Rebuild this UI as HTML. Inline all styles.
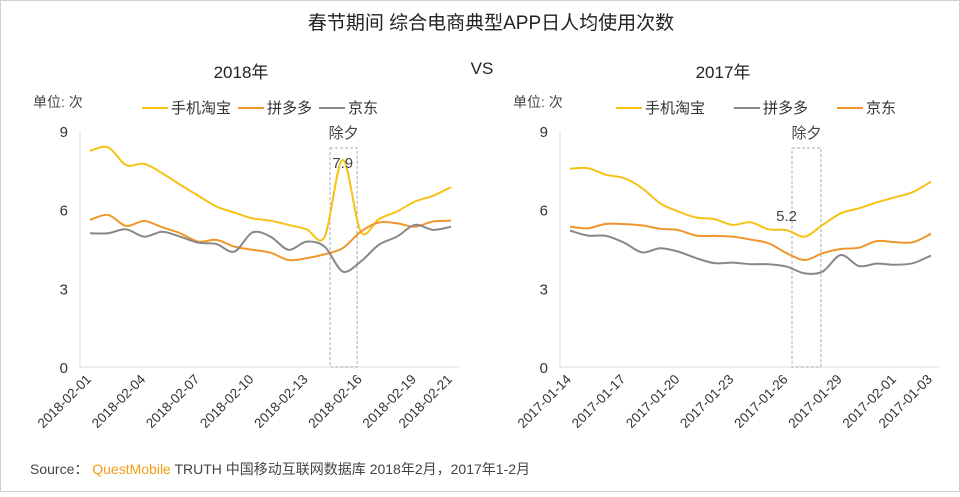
<!DOCTYPE html>
<html><head><meta charset="utf-8"><style>
html,body{margin:0;padding:0;background:#fff;}
body{width:960px;height:492px;overflow:hidden;font-family:"Liberation Sans","Noto Sans CJK SC",sans-serif;}
svg text{font-family:"Liberation Sans","Noto Sans CJK SC",sans-serif;}
</style></head><body>
<svg id="s" width="960" height="492" viewBox="0 0 960 492" xmlns="http://www.w3.org/2000/svg">
<rect x="0.5" y="0.5" width="959" height="491" fill="#fff" stroke="#d0d0d0"/>
<text x="491" y="29" text-anchor="middle" font-size="19" fill="#222">春节期间  综合电商典型APP日人均使用次数</text>
<text x="241" y="78" text-anchor="middle" font-size="17" fill="#222">2018年</text>
<text x="482" y="74" text-anchor="middle" font-size="17" fill="#222">VS</text>
<text x="723" y="78" text-anchor="middle" font-size="17" fill="#222">2017年</text>
<text x="30" y="474" font-size="14" fill="#444">Source：  <tspan fill="#f39c12">QuestMobile</tspan> TRUTH 中国移动互联网数据库 2018年2月，2017年1-2月</text>
</svg>
<script>
const yTicks = [0, 3, 6, 9];
const leftDates = ["2018-02-01","2018-02-04","2018-02-07","2018-02-10","2018-02-13","2018-02-16","2018-02-19","2018-02-21"];
const rightDates = ["2017-01-14","2017-01-17","2017-01-20","2017-01-23","2017-01-26","2017-01-29","2017-02-01","2017-01-03"];
const leftTickIdx = [0,3,6,9,12,15,18,20];
const rightTickIdx = [0,3,6,9,12,15,18,20];
const leftTaobao = [8.24,8.38,7.7,7.75,7.39,6.95,6.53,6.12,5.89,5.67,5.58,5.42,5.25,4.97,7.9,5.16,5.64,5.93,6.31,6.53,6.86];
const leftPdd = [5.61,5.8,5.38,5.57,5.33,5.1,4.78,4.85,4.59,4.47,4.36,4.08,4.15,4.3,4.53,5.16,5.51,5.48,5.35,5.55,5.58];
const leftJd = [5.1,5.1,5.25,4.97,5.16,4.97,4.74,4.69,4.4,5.13,4.97,4.47,4.78,4.59,3.64,4.02,4.66,4.97,5.42,5.23,5.35];
const rightTaobao = [7.56,7.58,7.33,7.2,6.82,6.24,5.93,5.7,5.64,5.42,5.52,5.25,5.22,4.97,5.42,5.86,6.05,6.28,6.47,6.67,7.07];
const rightPdd = [5.2,5.01,5.0,4.74,4.37,4.53,4.4,4.15,3.96,3.98,3.92,3.92,3.83,3.57,3.64,4.27,3.85,3.94,3.9,3.96,4.25];
const rightJd = [5.35,5.29,5.46,5.45,5.4,5.27,5.22,5.01,5.0,4.97,4.86,4.72,4.34,4.08,4.34,4.5,4.55,4.8,4.76,4.76,5.08];
const leftHighlight = [13.3, 14.8];
const rightHighlight = [12.3, 13.9];

const NS = "http://www.w3.org/2000/svg";
const svg = document.getElementById('s');
function mk(tag, attrs, parent){const e=document.createElementNS(NS,tag);for(const k in attrs)e.setAttribute(k,attrs[k]);(parent||svg).appendChild(e);return e;}
function smooth(pts){let d='M'+pts[0][0]+','+pts[0][1];for(let i=0;i<pts.length-1;i++){const p0=pts[i-1]||pts[i],p1=pts[i],p2=pts[i+1],p3=pts[i+2]||p2;const t=0.16;d+=' C'+(p1[0]+(p2[0]-p0[0])*t)+','+(p1[1]+(p2[1]-p0[1])*t)+' '+(p2[0]-(p3[0]-p1[0])*t)+','+(p2[1]-(p3[1]-p1[1])*t)+' '+p2[0]+','+p2[1];}return d;}

function panel(ox, dates, tickIdx, series, legend, hl, ann, annVal, side){
  const g = mk('g',{});
  
  
  const x0=ox+90, x1=ox+451, yb=367, yt=131, n=21;
  const X=i=>x0+(x1-x0)*i/(n-1);
  const Y=v=>yb-(yb-yt)*v/9;
  const ax=mk('line',{x1:ox+80,y1:yt,x2:ox+80,y2:yb,stroke:'#ddd'},g);
  
  
  const bx=mk('line',{x1:ox+80,y1:yb,x2:ox+460,y2:yb,stroke:'#ddd'},g);
  
  
  yTicks.forEach(v=>{const t=mk('text',{x:ox+68,y:Y(v)+6,'text-anchor':'end','font-size':'15',fill:'#333'},g);t.textContent=v;
    
    });
  const u=mk('text',{x:ox+33,y:107,'font-size':'14',fill:'#444'},g);u.textContent='单位: 次';
  
  
  tickIdx.forEach((idx,k)=>{const tx=X(idx)+2, ty=yb+13;
    const t=mk('text',{x:tx,y:ty,'text-anchor':'end','font-size':'13.5',fill:'#333',transform:'rotate(-45 '+tx+' '+ty+')'},g);t.textContent=dates[k];
    
    });
  const hr=mk('rect',{x:X(hl[0]),y:148,width:X(hl[1])-X(hl[0]),height:yb-148,fill:'none',stroke:'#aaa','stroke-dasharray':'3,2'},g);
  
  
  const hlab=mk('text',{x:(X(hl[0])+X(hl[1]))/2,y:138,'text-anchor':'middle','font-size':'15',fill:'#444'},g);hlab.textContent='除夕';
  
  
  series.forEach(s=>{const p=mk('path',{d:smooth(s.v.map((v,i)=>[X(i),Y(v)])),fill:'none',stroke:s.c,'stroke-width':'2'},g);
    
    });
  const av=series[0].v[ann];
  const at=mk('text',{x:X(ann),y:Y(av)-(side==='left'?-8:10)+(side==='left'?0:0),'text-anchor':'middle','font-size':'15',fill:'#444'},g);
  at.setAttribute('y', side==='left'? Y(av)+8 : Y(av)-9);
  at.textContent=annVal;
  
  
  legend.forEach(l=>{const lg=mk('g',{},g);
    
    
    mk('line',{x1:ox+l.x,y1:108,x2:ox+l.x+26,y2:108,stroke:l.c,'stroke-width':'2'},lg);
    const t=mk('text',{x:ox+l.x+29,y:113,'font-size':'15',fill:'#333'},lg);t.textContent=l.t;});
}
panel(0,leftDates,leftTickIdx,
  [{id:'taobao',v:leftTaobao,c:'#f5c216'},{id:'pdd',v:leftPdd,c:'#f0962b'},{id:'jd',v:leftJd,c:'#888'}],
  [{x:142,c:'#f5c216',t:'手机淘宝'},{x:238,c:'#f0962b',t:'拼多多'},{x:319,c:'#888',t:'京东'}],
  leftHighlight,14,'7.9','left');
panel(480,rightDates,rightTickIdx,
  [{id:'taobao',v:rightTaobao,c:'#f5c216'},{id:'pdd',v:rightPdd,c:'#888'},{id:'jd',v:rightJd,c:'#f0962b'}],
  [{x:136,c:'#f5c216',t:'手机淘宝'},{x:254,c:'#888',t:'拼多多'},{x:357,c:'#f0962b',t:'京东'}],
  rightHighlight,12,'5.2','right');
</script>
</body></html>
